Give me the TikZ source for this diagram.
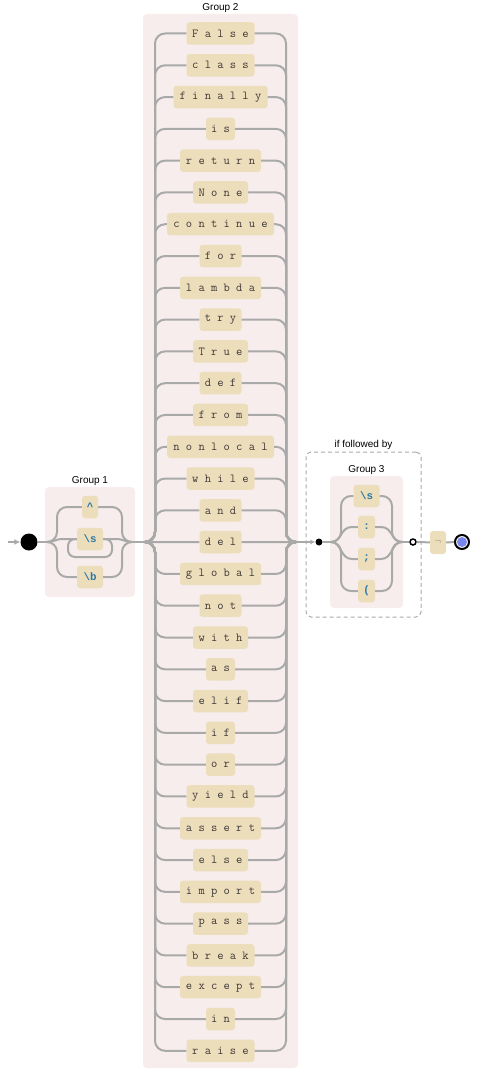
\documentclass[tikz,border=0pt]{standalone}
\usepackage{fontspec}
\setmainfont{Liberation Sans}
\newfontfamily\monof{Liberation Mono}
\usetikzlibrary{arrows.meta}
\definecolor{rail}{HTML}{A9A9A9}
\definecolor{boxfill}{HTML}{EDDEBB}
\definecolor{grpfill}{HTML}{F7EDED}
\definecolor{kwtext}{HTML}{3E3838}
\definecolor{esctext}{HTML}{2C78A6}
\definecolor{endblue}{HTML}{7A86F0}
\definecolor{faint}{HTML}{B5AE9E}
\begin{document}
\begin{tikzpicture}[x=1pt,y=-1pt,
  railline/.style={draw=rail, line width=2pt, rounded corners=10pt},
  railcurve/.style={draw=rail, line width=2pt},
  lit/.style={fill=boxfill, rounded corners=3pt, minimum height=22.5pt, inner sep=0pt,
    font=\ttfamily\fontsize{12.2}{13}\selectfont, text=kwtext},
  esc/.style={lit, font=\monof\bfseries\fontsize{10.83}{12}\selectfont, text=esctext},
  grp/.style={fill=grpfill, rounded corners=4pt, inner sep=0pt},
  grplabel/.style={font=\fontsize{10}{12}\selectfont, inner sep=0pt, anchor=south},
]
\useasboundingbox (0,0) rectangle (479,1070);

% group backgrounds
\node[grp, minimum width=90pt, minimum height=110pt] (G1) at (90,542) {};
\node[grp, minimum width=155pt, minimum height=1054pt] (G2) at (220.5,541) {};
\node[draw=rail, line width=1pt, dash pattern=on 4pt off 3pt, rounded corners=5pt,
  minimum width=115pt, minimum height=165pt, inner sep=0pt] (LA) at (363.5,534.5) {};
\node[grp, minimum width=73pt, minimum height=132pt] (G3) at (366.5,542) {};
\node[grplabel] at ([yshift=1.5pt]G1.north) {Group 1};
\node[grplabel] at ([yshift=1.5pt]G2.north) {Group 2};
\node[grplabel] at ([yshift=1.5pt]LA.north) {if followed by};
\node[grplabel] at ([yshift=1.5pt]G3.north) {Group 3};

% start
\node[circle, fill=black, minimum size=17pt, inner sep=0pt] (start) at (29,542) {};
\coordinate (a0) at (8,542);
\draw[railcurve, -{Latex[length=6pt,width=6pt]}] (a0) -- (start.west);

% group 1
\coordinate (g1in) at (47,542);
\coordinate (g1out) at (132,542);
\draw[railline] (start) -- (g1in);
\node[esc, minimum width=16pt] (caret) at (90,507) {\textasciicircum};
\node[esc, minimum width=26pt] (ws1) at (90,539) {\textbackslash s};
\node[esc, minimum width=26pt] (wb) at (90,577) {\textbackslash b};
\draw[railline] (g1in) -| (57,507) -- (caret.west);
\draw[railline] (caret.east) -- (122,507) |- (g1out);
\draw[railcurve] (g1in) .. controls (55,542) and (55,539) .. (63,539) -- (ws1.west);
\draw[railcurve] (ws1.east) -- (116,539) .. controls (124,539) and (124,542) .. (g1out);
\draw[railline, rounded corners=7pt] (ws1.east) -| (112,557) -| (68,539) -- (ws1.west);
\draw[railline] (g1in) -| (57,577) -- (wb.west);
\draw[railline] (wb.east) -- (122,577) |- (g1out);

% group 2
\coordinate (g2in) at (145,542);
\coordinate (g2out) at (296,542);
\draw[railline] (g1out) -- (g2in);
\foreach \kw/\nn [count=\i from 0] in {F a l s e/5, c l a s s/5, f i n a l l y/7, i s/2,
  r e t u r n/6, N o n e/4, c o n t i n u e/8, f o r/3, l a m b d a/6, t r y/3,
  T r u e/4, d e f/3, f r o m/4, n o n l o c a l/8, w h i l e/5, a n d/3, d e l/3,
  g l o b a l/6, n o t/3, w i t h/4, a s/2, e l i f/4, i f/2, o r/2, y i e l d/5,
  a s s e r t/6, e l s e/4, i m p o r t/6, p a s s/4, b r e a k/5, e x c e p t/6,
  i n/2, r a i s e/5}
{
  \pgfmathsetmacro\yy{33.5+31.79*\i}
  \pgfmathsetmacro\ww{13*\nn+3}
  \node[lit, minimum width=\ww pt] (k\i) at (220.5,\yy) {\kw};
  \ifnum\i=16
    \draw[railline] (g2in) -- (k\i.west);
    \draw[railline] (k\i.east) -- (g2out);
  \else
    \draw[railline] (g2in) -| (155,\yy) -- (k\i.west);
    \draw[railline] (k\i.east) -- (286,\yy) |- (g2out);
  \fi
}

% lookahead
\node[circle, fill=black, minimum size=7pt, inner sep=0pt] (lad) at (319,542) {};
\draw[railcurve, -{Latex[length=5pt,width=5pt]}] (g2out) -- (lad.west);
\coordinate (g3in) at (331,542);
\coordinate (g3out) at (402,542);
\draw[railline] (lad) -- (g3in);
\node[esc, minimum width=26pt] (s3) at (366.5,496) {\textbackslash s};
\node[esc, minimum width=17pt] (colon) at (366.5,527) {:};
\node[esc, minimum width=17pt] (semi) at (366.5,559) {;};
\node[esc, minimum width=17pt] (paren) at (366.5,591) {(};
\draw[railline] (g3in) -| (341,496) -- (s3.west);
\draw[railline] (s3.east) -- (392,496) |- (g3out);
\draw[railcurve] (g3in) .. controls (342,542) and (340,527) .. (352,527) -- (colon.west);
\draw[railcurve] (colon.east) -- (381,527) .. controls (393,527) and (391,542) .. (g3out);
\draw[railcurve] (g3in) .. controls (342,542) and (340,559) .. (352,559) -- (semi.west);
\draw[railcurve] (semi.east) -- (381,559) .. controls (393,559) and (391,542) .. (g3out);
\draw[railline] (g3in) -| (341,591) -- (paren.west);
\draw[railline] (paren.east) -- (392,591) |- (g3out);
\node[circle, draw=black, line width=1.5pt, fill=white, minimum size=6pt, inner sep=0pt] (lae) at (413,542) {};
\draw[railline] (g3out) -- (lae);

% tail
\node[lit, minimum width=16pt, minimum height=23pt, text=faint, font=\monof\fontsize{10.83}{12}\selectfont] (nb) at (438,542.5) {¬};
\node[circle, draw=black, line width=2pt, fill=white, minimum size=14pt, inner sep=0pt] (fin) at (462,542) {};
\node[circle, fill=endblue, minimum size=10pt, inner sep=0pt] (finin) at (fin.center) {};
\draw[railline] (lae) -- (nb);
\draw[railline] (nb) -- (fin);
\end{tikzpicture}
\end{document}
